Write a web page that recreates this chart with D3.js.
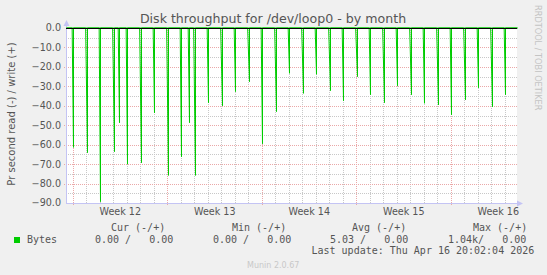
<!DOCTYPE html>
<html>
<head>
<meta charset="utf-8">
<script src="https://cdn.jsdelivr.net/npm/d3@7"></script>
<style>
  body { margin: 0; background: #f0f0f0; }
  svg { display: block; }
</style>
</head>
<body>
<svg width="547" height="275"></svg>
<script>
// read spikes (negative side), one per day plus two extra ones
const readTimes = [
  "2026-03-15 00:30", "2026-03-16 00:30", "2026-03-17 00:30", "2026-03-18 00:30", "2026-03-18 10:20",
  "2026-03-19 00:30", "2026-03-20 00:30", "2026-03-21 00:30", "2026-03-22 00:30", "2026-03-23 00:30",
  "2026-03-23 14:45", "2026-03-24 00:30", "2026-03-25 00:30", "2026-03-26 00:30", "2026-03-27 00:30",
  "2026-03-28 00:30", "2026-03-29 00:30", "2026-03-30 00:30", "2026-03-31 00:30", "2026-04-01 00:30",
  "2026-04-02 00:30", "2026-04-03 00:30", "2026-04-04 00:30", "2026-04-05 00:30", "2026-04-06 00:30",
  "2026-04-07 00:30", "2026-04-08 00:30", "2026-04-09 00:30", "2026-04-10 00:30", "2026-04-11 00:30",
  "2026-04-12 00:30", "2026-04-13 00:30", "2026-04-14 00:30", "2026-04-15 00:30", "2026-04-16 00:30"
];
const readValues = [
  61.4, 64.1, 89.3, 63.6, 48.7,
  70.0, 69.3, 43.6, 75.8, 66.2,
  48.7, 75.8, 38.4, 40.0, 32.7,
  27.6, 59.5, 43.0, 23.3, 33.6,
  23.8, 32.2, 37.4, 25.0, 34.3,
  38.4, 29.7, 34.3, 38.7, 39.6,
  44.6, 36.9, 30.7, 40.5, 34.3
];
const writeValue = 0;

const yTicks = [0, -10, -20, -30, -40, -50, -60, -70, -80, -90];
const legendHeaders = ["Cur (-/+)", "Min (-/+)", "Avg (-/+)", "Max (-/+)"];
const legendValues = ["0.00 /   0.00", "0.00 /   0.00", "5.03 /   0.00", "1.04k/   0.00"];

const title = "Disk throughput for /dev/loop0 - by month";
const yLabel = "Pr second read (-) / write (+)";
const lastUpdate = "Last update: Thu Apr 16 20:02:04 2026";

const parse = d3.timeParse("%Y-%m-%d %H:%M");
const tStart = parse("2026-03-14 11:34");
const tEnd = parse("2026-04-16 21:20");

const svg = d3.select("svg");
const plot = {left: 66, right: 517, top: 28, bottom: 203};

const x = d3.scaleTime().domain([tStart, tEnd]).range([plot.left, plot.right]);
const y = d3.scaleLinear().domain([-90, 0]).range([plot.bottom, plot.top]);

const sans = "DejaVu Sans, sans-serif";
const mono = "DejaVu Sans Mono, monospace";
const textCol = "#555";

svg.append("rect")
  .attr("x", plot.left).attr("y", plot.top)
  .attr("width", plot.right - plot.left).attr("height", plot.bottom - plot.top)
  .attr("fill", "#fff");

const snap = v => Math.round(v) + 0.5;

// grid: minor first, then major
const g = svg.append("g").attr("shape-rendering", "crispEdges");
const days = d3.timeDay.range(d3.timeDay.ceil(tStart), tEnd);
g.selectAll(".vminor")
  .data(days.filter(d => d.getDay() !== 0))
  .join("line")
  .attr("x1", d => snap(x(d))).attr("x2", d => snap(x(d)))
  .attr("y1", plot.top).attr("y2", plot.bottom)
  .attr("stroke", "#c8c8c8").attr("stroke-dasharray", "1,1");
g.selectAll(".hminor")
  .data(d3.range(-85, 0, 10))
  .join("line")
  .attr("x1", plot.left).attr("x2", plot.right)
  .attr("y1", d => snap(y(d))).attr("y2", d => snap(y(d)))
  .attr("stroke", "#c8c8c8").attr("stroke-dasharray", "1,1");
const sundays = d3.timeSunday.range(tStart, tEnd);
g.selectAll(".vmajor")
  .data(sundays)
  .join("line")
  .attr("x1", d => snap(x(d))).attr("x2", d => snap(x(d)))
  .attr("y1", plot.top).attr("y2", plot.bottom + 3)
  .attr("stroke", "#eaa8a8").attr("stroke-dasharray", "1,1");
g.selectAll(".hmajor")
  .data(yTicks.filter(d => d !== 0 && d !== -90))
  .join("line")
  .attr("x1", plot.left - 2).attr("x2", plot.right)
  .attr("y1", d => snap(y(d))).attr("y2", d => snap(y(d)))
  .attr("stroke", "#eaa8a8").attr("stroke-dasharray", "1,1");

// axes lines + arrows
const axisCol = "#c4c4f4";
svg.append("line")
  .attr("x1", plot.left + 0.5).attr("x2", plot.left + 0.5)
  .attr("y1", plot.top - 4).attr("y2", plot.bottom + 1)
  .attr("stroke", axisCol);
svg.append("line")
  .attr("x1", plot.left).attr("x2", plot.right + 2)
  .attr("y1", plot.bottom + 0.5).attr("y2", plot.bottom + 0.5)
  .attr("stroke", axisCol);
svg.append("path")
  .attr("d", `M${plot.left - 2.5},${plot.top - 2}L${plot.left + 0.5},${plot.top - 8}L${plot.left + 3.5},${plot.top - 2}Z`)
  .attr("fill", axisCol);
svg.append("path")
  .attr("d", `M${plot.right},${plot.bottom - 2.5}L${plot.right + 6},${plot.bottom + 0.5}L${plot.right},${plot.bottom + 3.5}Z`)
  .attr("fill", axisCol);

// read series: each spike slides down from the previous sample and comes straight back up
const readPts = [{t: tStart, v: 0, crisp: true}];
readTimes.forEach((s, i) => {
  const t = parse(s);
  readPts.push({t: d3.timeHour.offset(t, -2), v: 0, crisp: false});
  readPts.push({t: t, v: -readValues[i], crisp: true});
  readPts.push({t: d3.timeMinute.offset(t, 1), v: 0, crisp: true});
});
readPts.push({t: tEnd, v: 0, crisp: true});

const line = d3.line()
  .x(d => d.crisp ? snap(x(d.t)) : x(d.t))
  .y(d => y(d.v));

svg.append("path")
  .datum(readPts)
  .attr("fill", "none")
  .attr("stroke", "#00cc00")
  .attr("stroke-width", 1)
  .attr("d", line);

// write series (all zero) and the zero rule
svg.append("path")
  .datum([{t: tStart, v: writeValue, crisp: true}, {t: tEnd, v: writeValue, crisp: true}])
  .attr("fill", "none").attr("stroke", "#00cc00")
  .attr("d", line);
svg.append("line")
  .attr("x1", plot.left).attr("x2", plot.right)
  .attr("y1", y(0) + 0.5).attr("y2", y(0) + 0.5)
  .attr("stroke", "#000").attr("shape-rendering", "crispEdges");

// y tick labels
svg.selectAll(".ytick")
  .data(yTicks)
  .join("text")
  .attr("x", 61).attr("y", d => y(d))
  .attr("dy", "0.36em")
  .attr("text-anchor", "end")
  .attr("font-family", sans).attr("font-size", 9.6)
  .attr("fill", textCol)
  .text(d => d3.format(".1f")(d));

// week labels, centred on each Sunday-Saturday block
const weekMid = sundays.map(d => d3.timeHour.offset(d, 84));
svg.selectAll(".week")
  .data(weekMid.filter(d => x(d) < plot.right))
  .join("text")
  .attr("x", d => x(d)).attr("y", 215)
  .attr("text-anchor", "middle")
  .attr("font-family", sans).attr("font-size", 9.6)
  .attr("fill", textCol)
  .text(d => "Week " + +d3.timeFormat("%V")(d));

// title and axis label
svg.append("text")
  .attr("x", 273).attr("y", 23)
  .attr("text-anchor", "middle")
  .attr("font-family", sans).attr("font-size", 12.6)
  .attr("fill", textCol)
  .text(title);
svg.append("text")
  .attr("transform", "translate(15,114) rotate(-90)")
  .attr("text-anchor", "middle")
  .attr("font-family", sans).attr("font-size", 10)
  .attr("fill", textCol)
  .text(yLabel);
svg.append("text")
  .attr("transform", "translate(535,5) rotate(90)")
  .attr("font-family", sans).attr("font-size", 8.2)
  .attr("fill", "#c4c4c4")
  .text("RRDTOOL / TOBI OETIKER");

// legend
svg.append("rect")
  .attr("x", 14).attr("y", 237).attr("width", 6).attr("height", 6)
  .attr("fill", "#00cc00");
svg.append("text")
  .attr("x", 27).attr("y", 243)
  .attr("font-family", mono).attr("font-size", 10)
  .attr("fill", textCol)
  .text("Bytes");
const headerX = [111, 232, 352, 473];
const valueX = [95, 213, 330, 448];
svg.selectAll(".lhead")
  .data(legendHeaders)
  .join("text")
  .attr("x", (d, i) => headerX[i]).attr("y", 231)
  .attr("font-family", mono).attr("font-size", 10)
  .attr("fill", textCol)
  .style("white-space", "pre")
  .text(d => d);
svg.selectAll(".lval")
  .data(legendValues)
  .join("text")
  .attr("x", (d, i) => valueX[i]).attr("y", 243)
  .attr("font-family", mono).attr("font-size", 10)
  .attr("fill", textCol)
  .style("white-space", "pre")
  .text(d => d);
svg.append("text")
  .attr("x", 311.5).attr("y", 254)
  .attr("font-family", mono).attr("font-size", 10)
  .attr("fill", textCol)
  .text(lastUpdate);
svg.append("text")
  .attr("x", 247).attr("y", 268)
  .attr("font-family", sans).attr("font-size", 8)
  .attr("fill", "#c8c8c8")
  .text("Munin 2.0.67");
</script>
</body>
</html>
